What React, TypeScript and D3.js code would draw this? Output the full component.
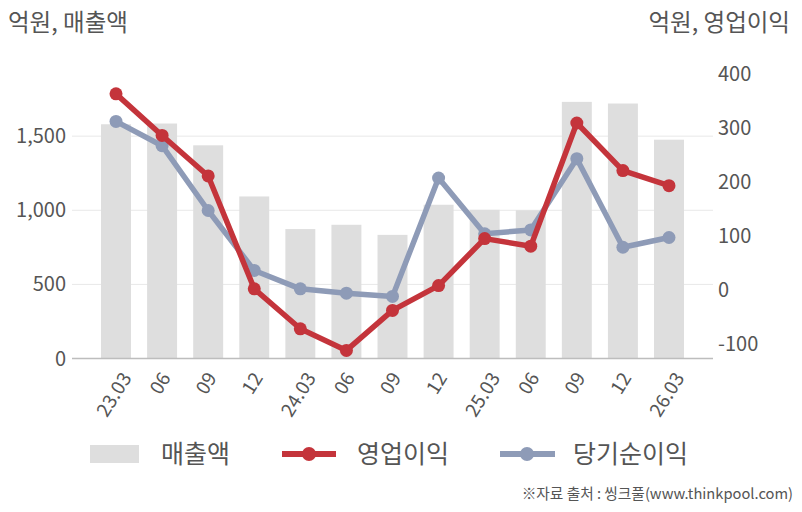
import * as d3 from "d3";

const categories = ["23.03", "06", "09", "12", "24.03", "06 ", "09 ", "12 ", "25.03", "06  ", "09  ", "12  ", "26.03"];
const sales = [1580, 1585, 1438, 1093, 873, 902, 834, 1037, 1003, 1000, 1731, 1720, 1476];
const operatingProfit = [364, 287, 212, 3, -71, -111, -37, 9, 96, 82, 310, 222, 194];
const netProfit = [313, 268, 148, 37, 3, -5, -11, 208, 105, 112, 244, 80, 98];
const leftTicks = [0, 500, 1000, 1500];
const rightTicks = [-100, 0, 100, 200, 300, 400];

const FONT = "'Noto Sans CJK KR', 'Noto Sans', sans-serif";
const RED = "#c4343b";
const BLUE = "#8e9bb7";
const BAR = "#dedede";
const TEXT = "#555";

// rough text width for the rotated x labels (digits + dots)
const labelWidth = (s: string, size: number) =>
  s.split("").reduce((w, ch) => w + (ch === "." ? 0.27 : 0.56), 0) * size;

export default function App() {
  const width = 802;
  const height = 512;
  const plot = { left: 72, right: 713, top: 62, bottom: 358.5 };

  const x = d3
    .scaleBand<string>()
    .domain(categories)
    .range([plot.left, plot.right])
    .paddingInner(0.35)
    .paddingOuter(0.63);
  const yLeft = d3.scaleLinear().domain([0, 2000]).range([plot.bottom, plot.top]);
  const yRight = d3.scaleLinear().domain([-126, 423]).range([plot.bottom, plot.top]);
  const cx = (i: number) => (x(categories[i]) ?? 0) + x.bandwidth() / 2;

  const line = d3
    .line<number>()
    .x((_, i) => cx(i))
    .y((d) => yRight(d));

  const series = [
    { values: netProfit, color: BLUE },
    { values: operatingProfit, color: RED },
  ];

  const labelSize = 19;
  const angle = 58;
  const rad = (angle * Math.PI) / 180;

  return (
    <svg
      width={width}
      height={height}
      style={{ position: "absolute", left: 0, top: 0, background: "#fff" }}
      fontFamily={FONT}
    >
      <text x={8} y={31} fontSize={23.5} fill={TEXT}>억원, 매출액</text>
      <text x={790} y={31} fontSize={23.5} fill={TEXT} textAnchor="end">억원, 영업이익</text>

      {leftTicks.slice(1).map((t) => (
        <line key={t} x1={plot.left} x2={plot.right} y1={yLeft(t)} y2={yLeft(t)} stroke="#e8e8e8" />
      ))}

      {sales.map((v, i) => (
        <rect
          key={i}
          x={x(categories[i])}
          y={yLeft(v)}
          width={x.bandwidth()}
          height={yLeft(0) - yLeft(v)}
          fill={BAR}
        />
      ))}

      <line x1={plot.left} x2={plot.right} y1={plot.bottom} y2={plot.bottom} stroke="#bdbdbd" strokeWidth={1.5} />

      {leftTicks.map((t) => (
        <text key={t} x={66} y={yLeft(t)} dy="0.35em" textAnchor="end" fontSize={20} fill={TEXT}>
          {d3.format(",")(t)}
        </text>
      ))}
      {rightTicks.map((t) => (
        <text key={t} x={718} y={yRight(t)} dy="0.35em" fontSize={20} fill={TEXT}>
          {t}
        </text>
      ))}

      {categories.map((c, i) => {
        const L = labelWidth(c.trim(), labelSize);
        const h = 0.75 * labelSize;
        const midY = plot.bottom + 12 + (L * Math.sin(rad) + h * Math.cos(rad)) / 2;
        return (
          <text
            key={c}
            transform={`translate(${cx(i) - 2}, ${midY}) rotate(${-angle})`}
            textAnchor="middle"
            dy="0.35em"
            fontSize={labelSize}
            fill={TEXT}
          >
            {c.trim()}
          </text>
        );
      })}

      {series.map((s) => (
        <g key={s.color}>
          <path d={line(s.values) ?? ""} fill="none" stroke={s.color} strokeWidth={5.5} strokeLinejoin="round" />
          {s.values.map((v, i) => (
            <circle key={i} cx={cx(i)} cy={yRight(v)} r={6.5} fill={s.color} />
          ))}
        </g>
      ))}

      <g fontSize={25} fill={TEXT}>
        <rect x={90} y={445} width={49} height={18} fill={BAR} />
        <text x={161} y={454} dy="0.35em">매출액</text>
        <line x1={282} x2={336} y1={454} y2={454} stroke={RED} strokeWidth={6} />
        <circle cx={309} cy={454} r={7} fill={RED} />
        <text x={357} y={454} dy="0.35em">영업이익</text>
        <line x1={500} x2={555} y1={454} y2={454} stroke={BLUE} strokeWidth={6} />
        <circle cx={527} cy={454} r={7} fill={BLUE} />
        <text x={573} y={454} dy="0.35em">당기순이익</text>
      </g>

      <text x={793} y={499} textAnchor="end" fontSize={14.7} fill={TEXT}>
        ※자료 출처 : 씽크풀(www.thinkpool.com)
      </text>
    </svg>
  );
}
